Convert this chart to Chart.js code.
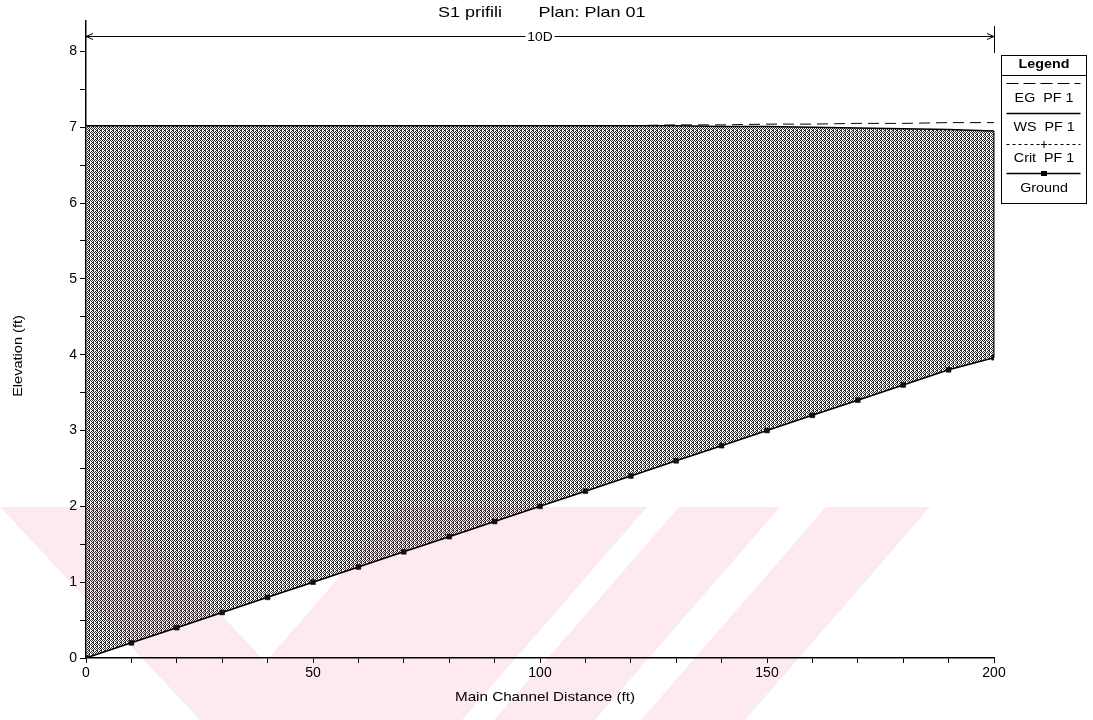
<!DOCTYPE html>
<html>
<head>
<meta charset="utf-8">
<title>S1 prifili</title>
<script src="https://cdn.jsdelivr.net/npm/chart.js@4.4.0/dist/chart.umd.min.js"></script>
<style>
  html, body { margin: 0; padding: 0; background: #fff; }
  #wrap { width: 1093px; height: 720px; position: relative; }
</style>
</head>
<body>
<div id="wrap"><canvas id="profileChart"></canvas></div>
<script>
// river stations (ft) and profile elevations (ft)
const stations = [0, 10, 20, 30, 40, 50, 60, 70, 80, 90, 100, 110, 120, 130, 140, 150, 160, 170, 180, 190, 200];
const groundElev = [0, 0.2, 0.4, 0.6, 0.8, 1.0, 1.2, 1.4, 1.6, 1.8, 2.0, 2.2, 2.4, 2.6, 2.8, 3.0, 3.2, 3.4, 3.6, 3.8, 3.96];
const wsElev = [7.02, 7.02, 7.02, 7.02, 7.02, 7.02, 7.02, 7.02, 7.02, 7.02, 7.02, 7.02, 7.02, 7.02, 7.01, 7.01, 7.0, 6.99, 6.98, 6.97, 6.95];
const egElev = [7.02, 7.02, 7.02, 7.02, 7.02, 7.02, 7.02, 7.02, 7.02, 7.02, 7.02, 7.02, 7.02, 7.03, 7.03, 7.04, 7.04, 7.05, 7.05, 7.06, 7.06];
const critElev = [];

// axis ticks
const xTickMarks = [0, 10, 20, 30, 40, 50, 60, 70, 80, 90, 100, 110, 120, 130, 140, 150, 160, 170, 180, 190, 200];
const xTickLabels = [0, 50, 100, 150, 200];
const yTickMarks = [0, 0.5, 1, 1.5, 2, 2.5, 3, 3.5, 4, 4.5, 5, 5.5, 6, 6.5, 7, 7.5, 8];
const yTickLabels = [0, 1, 2, 3, 4, 5, 6, 7, 8];

const seriesNames = ['EG  PF 1', 'WS  PF 1', 'Crit  PF 1', 'Ground'];
const reachLabel = '10D';
const FONT = '"Liberation Sans", Arial, sans-serif';

Chart.defaults.font.family = FONT;
Chart.defaults.color = '#000';

const canvas = document.getElementById('profileChart');
const ctx = canvas.getContext('2d');

// dithered grey fill like the old HEC-RAS printout
function makeHatch() {
  const tile = document.createElement('canvas');
  tile.width = 4; tile.height = 4;
  const g = tile.getContext('2d');
  const rows = ['X.X.', '.X.X', 'XX..', '.X.X'];
  g.fillStyle = '#2a2a2a';
  rows.forEach((r, y) => {
    for (let x = 0; x < 4; x++) if (r[x] === 'X') g.fillRect(x, y, 1, 1);
  });
  return ctx.createPattern(tile, 'repeat');
}
const hatch = makeHatch();

function pts(ys) {
  return ys.map((y, i) => ({ x: stations[i], y: y }));
}

// stretched text helper (scan is a bit wide)
function wideText(c, text, x, y, size, stretch, bold) {
  c.save();
  c.font = (bold ? 'bold ' : '') + size + 'px ' + FONT;
  c.textAlign = 'center';
  c.textBaseline = 'middle';
  c.translate(x, y);
  c.scale(stretch, 1);
  c.fillStyle = '#000';
  c.fillText(text, 0, 0);
  c.restore();
}

const decorations = {
  id: 'decorations',
  beforeDraw(chart) {
    const c = chart.ctx;
    c.save();
    c.fillStyle = '#fff';
    c.fillRect(0, 0, chart.width, chart.height);
    // faint watermark bands
    c.fillStyle = '#fdeaee';
    const bands = [
      [[0, 507], [120, 507], [320, 720], [200, 720]],
      [[400, 507], [647, 507], [462, 720], [215, 720]],
      [[679, 507], [780, 507], [595, 720], [494, 720]],
      [[826, 507], [930, 507], [745, 720], [641, 720]]
    ];
    bands.forEach(b => {
      c.beginPath();
      b.forEach((p, i) => i ? c.lineTo(p[0], p[1]) : c.moveTo(p[0], p[1]));
      c.closePath();
      c.fill();
    });
    c.restore();
  },
  afterDatasetsDraw(chart) {
    const c = chart.ctx;
    const xs = chart.scales.x, ys = chart.scales.y;
    const last = stations.length - 1;
    const xEnd = xs.getPixelForValue(stations[last]);
    const xStart = xs.getPixelForValue(stations[0]);
    c.save();
    c.strokeStyle = '#000';
    c.lineWidth = 1;
    // downstream edge of the water body
    c.beginPath();
    c.moveTo(xEnd, ys.getPixelForValue(wsElev[last]));
    c.lineTo(xEnd, ys.getPixelForValue(groundElev[last]));
    c.stroke();
    // reach length arrow
    const ay = 36.5;
    c.beginPath();
    c.moveTo(xStart, ay); c.lineTo(xEnd, ay);
    c.moveTo(xStart + 7, ay - 3); c.lineTo(xStart, ay); c.lineTo(xStart + 7, ay + 3);
    c.moveTo(xEnd - 7, ay - 3); c.lineTo(xEnd, ay); c.lineTo(xEnd - 7, ay + 3);
    c.moveTo(xEnd + 0.5, 26); c.lineTo(xEnd + 0.5, 53);
    c.stroke();
    c.font = '12px ' + FONT;
    const w = c.measureText(reachLabel).width * 1.15 + 4;
    const mid = (xStart + xEnd) / 2;
    c.fillStyle = '#fff';
    c.fillRect(mid - w / 2, ay - 6, w, 12);
    c.restore();
    wideText(c, reachLabel, mid, ay + 1, 12, 1.15, false);
  },
  afterDraw(chart) {
    const c = chart.ctx;
    // title
    wideText(c, 'S1 prifili', 470, 13, 15, 1.2, false);
    wideText(c, 'Plan: Plan 01', 592, 13, 15, 1.2, false);
    // axis titles
    wideText(c, 'Main Channel Distance (ft)', 545, 697, 13, 1.17, false);
    c.save();
    c.translate(18, 356);
    c.rotate(-Math.PI / 2);
    wideText(c, 'Elevation (ft)', 0, 0, 13, 1.12, false);
    c.restore();

    // legend box
    const lx = 1001.5, ly = 55.5, lw = 85, lh = 148;
    const cx = lx + lw / 2;
    const x0 = lx + 5, x1 = lx + lw - 6;
    c.save();
    c.strokeStyle = '#000';
    c.lineWidth = 1;
    c.strokeRect(lx, ly, lw, lh);
    c.beginPath();
    c.moveTo(lx, 75.5); c.lineTo(lx + lw, 75.5);
    c.stroke();
    // EG sample
    c.setLineDash([12, 5]);
    c.beginPath(); c.moveTo(x0, 83.5); c.lineTo(x1, 83.5); c.stroke();
    // Crit sample
    c.setLineDash([3, 3]);
    c.beginPath(); c.moveTo(x0, 144.5); c.lineTo(x1, 144.5); c.stroke();
    c.setLineDash([]);
    c.beginPath(); c.moveTo(cx, 141); c.lineTo(cx, 148); c.moveTo(cx - 3, 144.5); c.lineTo(cx + 3, 144.5); c.stroke();
    // WS sample
    c.lineWidth = 1.5;
    c.beginPath(); c.moveTo(x0, 113.5); c.lineTo(x1, 113.5); c.stroke();
    // Ground sample
    c.beginPath(); c.moveTo(x0, 173.5); c.lineTo(x1, 173.5); c.stroke();
    c.fillStyle = '#000';
    c.fillRect(cx - 3, 171, 6, 5);
    c.restore();
    wideText(c, 'Legend', cx, 64, 13, 1.1, true);
    wideText(c, seriesNames[0], cx, 98, 13, 1.1, false);
    wideText(c, seriesNames[1], cx, 127, 13, 1.1, false);
    wideText(c, seriesNames[2], cx, 158, 13, 1.1, false);
    wideText(c, seriesNames[3], cx, 188, 13, 1.1, false);
  }
};

const profileChart = new Chart(ctx, {
  type: 'line',
  data: {
    datasets: [
      {
        label: seriesNames[0],
        data: pts(egElev),
        borderColor: '#000',
        borderWidth: 1,
        borderDash: [11, 6],
        pointRadius: 0,
        fill: false
      },
      {
        label: seriesNames[1],
        data: pts(wsElev),
        borderColor: '#000',
        borderWidth: 1.5,
        pointRadius: 0,
        backgroundColor: hatch,
        fill: 3
      },
      {
        label: seriesNames[2],
        data: pts(critElev),
        borderColor: '#000',
        borderWidth: 1,
        borderDash: [3, 3],
        pointRadius: 0,
        fill: false
      },
      {
        label: seriesNames[3],
        data: pts(groundElev),
        borderColor: '#000',
        borderWidth: 1.5,
        pointStyle: 'rect',
        pointRadius: 3.4,
        pointBackgroundColor: '#111',
        pointBorderColor: '#000',
        pointBorderWidth: 0.5,
        fill: false
      }
    ]
  },
  options: {
    responsive: true,
    maintainAspectRatio: false,
    animation: false,
    layout: { padding: { top: 21, right: 99, bottom: 0, left: 0 } },
    plugins: {
      legend: { display: false },
      title: { display: false },
      tooltip: { enabled: false },
      filler: { drawTime: 'beforeDatasetsDraw' }
    },
    elements: { line: { tension: 0 } },
    scales: {
      x: {
        type: 'linear',
        min: 0,
        max: 200,
        afterBuildTicks: s => { s.ticks = xTickMarks.map(v => ({ value: v })); },
        afterFit: s => { s.height = 62; },
        ticks: {
          autoSkip: false,
          maxRotation: 0,
          padding: 2,
          font: { size: 14 },
          color: '#000',
          callback: v => xTickLabels.includes(v) ? String(v) : ''
        },
        grid: { display: true, drawOnChartArea: false, drawTicks: true, tickLength: 5, color: '#000', lineWidth: 1 },
        border: { display: true, color: '#000', width: 1.5 }
      },
      y: {
        type: 'linear',
        min: 0,
        max: 8.4,
        afterBuildTicks: s => { s.ticks = yTickMarks.map(v => ({ value: v })); },
        afterFit: s => { s.width = 86; },
        ticks: {
          autoSkip: false,
          padding: 3,
          font: { size: 14 },
          color: '#000',
          callback: v => yTickLabels.includes(v) ? String(v) : ''
        },
        grid: { display: true, drawOnChartArea: false, drawTicks: true, tickLength: 6, color: '#000', lineWidth: 1 },
        border: { display: true, color: '#000', width: 1.5 }
      }
    }
  },
  plugins: [decorations]
});
</script>
</body>
</html>
